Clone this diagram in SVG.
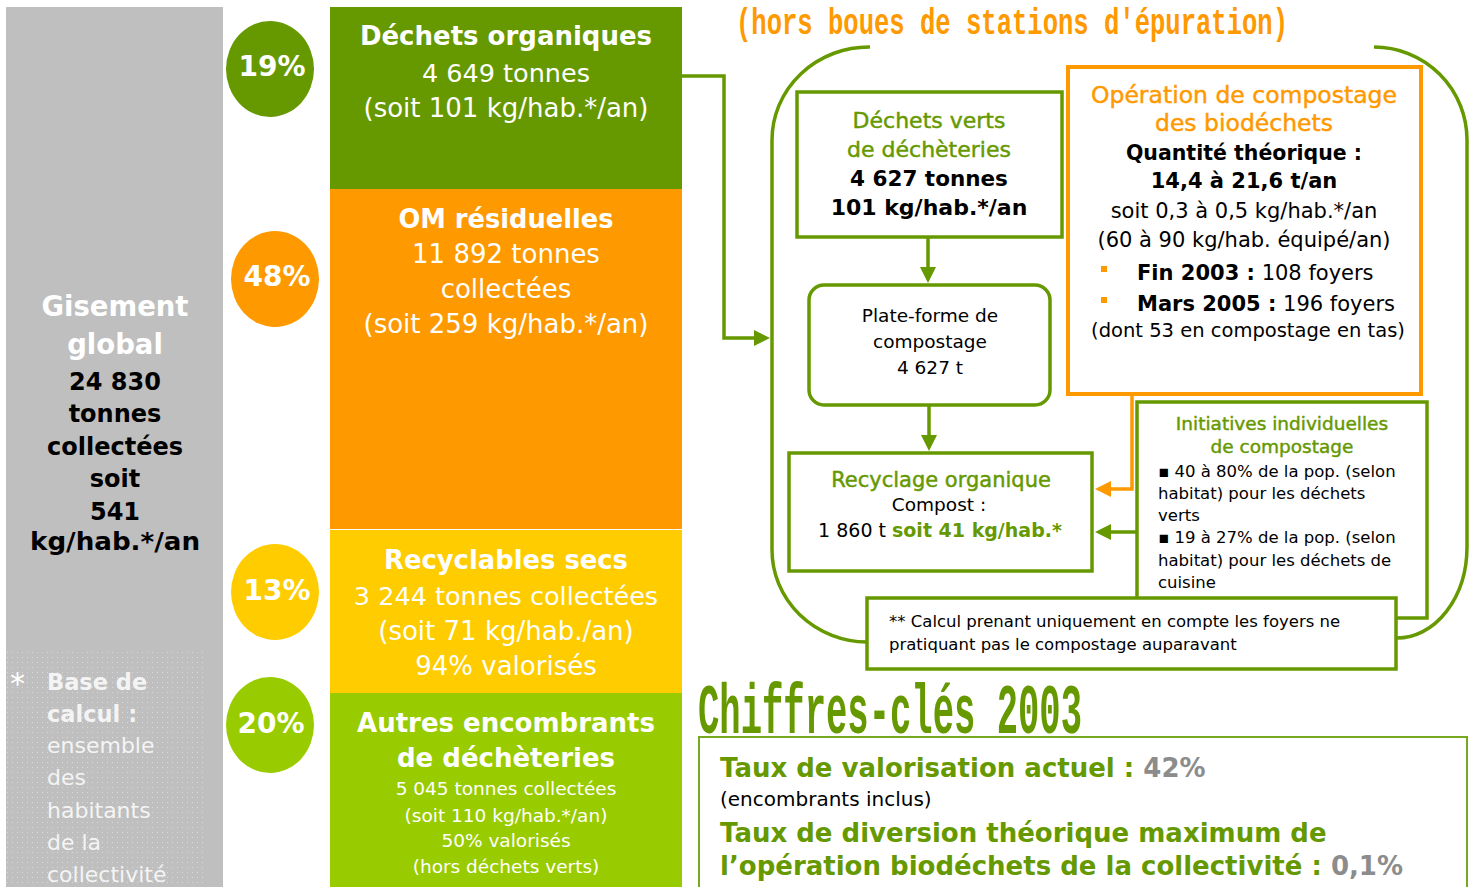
<svg xmlns="http://www.w3.org/2000/svg" width="1474" height="887" viewBox="0 0 1474 887">
<defs>
<style>
text{font-family:"DejaVu Sans",Verdana,sans-serif}
.b{font-weight:bold}
.w{fill:#ffffff}
.k{fill:#000000}
.c{text-anchor:middle}
.g{fill:#669900}
.gs{fill:#669900;stroke:#669900;stroke-width:.45}
.os{fill:#ff9900;stroke:#ff9900;stroke-width:.45}
.gray{fill:#8c8c8c}
.mono{font-family:"Liberation Mono","Courier New",monospace;font-weight:bold}
.box{fill:#ffffff;stroke:#669900;stroke-width:3.5}
.obox{fill:#ffffff;stroke:#ff9900;stroke-width:4}
.ln{fill:none;stroke:#669900;stroke-width:3.5}
.lno{fill:none;stroke:#ff9900;stroke-width:3.5}
</style>
<marker id="ag" markerUnits="userSpaceOnUse" markerWidth="16" markerHeight="16" refX="4" refY="8" orient="auto">
<path d="M0,0 L16,8 L0,16 Z" fill="#669900"/>
</marker>
<marker id="ao" markerUnits="userSpaceOnUse" markerWidth="16" markerHeight="16" refX="4" refY="8" orient="auto">
<path d="M0,0 L16,8 L0,16 Z" fill="#ff9900"/>
</marker>
<pattern id="dots" width="5" height="5" patternUnits="userSpaceOnUse">
<rect x="2" y="2" width="1" height="1" fill="#dadada"/>
</pattern>
</defs>

<g id="gisement">
<rect x="6" y="7" width="217" height="880" fill="#bfbfbf"/>
<rect x="7" y="650" width="198" height="237" fill="url(#dots)"/>
<text class="b w c" x="115" y="316" font-size="27.5">Gisement</text>
<text class="b w c" x="115" y="354" font-size="27.5">global</text>
<text class="b k c" x="115" y="390" font-size="24">24 830</text>
<text class="b k c" x="115" y="422" font-size="24">tonnes</text>
<text class="b k c" x="115" y="455" font-size="24">collectées</text>
<text class="b k c" x="115" y="487" font-size="24">soit</text>
<text class="b k c" x="115" y="520" font-size="24">541</text>
<text class="b k c" x="115" y="550" font-size="24" textLength="170" lengthAdjust="spacingAndGlyphs">kg/hab.*/an</text>
<text x="10" y="694" font-size="30" fill="#ffffff">*</text>
<text class="b" x="47" y="690" font-size="22.5" fill="#f4f4f4">Base de</text>
<text class="b" x="47" y="722" font-size="22.5" fill="#f4f4f4">calcul :</text>
<text x="47" y="753" font-size="22" fill="#f4f4f4">ensemble</text>
<text x="47" y="785" font-size="22" fill="#f4f4f4">des</text>
<text x="47" y="818" font-size="22" fill="#f4f4f4">habitants</text>
<text x="47" y="850" font-size="22" fill="#f4f4f4">de la</text>
<text x="47" y="882" font-size="22" fill="#f4f4f4">collectivité</text>
</g>

<g id="pct-19">
<ellipse cx="270" cy="69" rx="44" ry="48" fill="#669900"/>
<text class="b w c" x="272" y="76" font-size="28">19%</text>
</g>
<g id="pct-48">
<ellipse cx="275" cy="279" rx="44" ry="48" fill="#ff9900"/>
<text class="b w c" x="277" y="286" font-size="28">48%</text>
</g>
<g id="pct-13">
<ellipse cx="275" cy="592" rx="44" ry="48" fill="#ffcc00"/>
<text class="b w c" x="277" y="600" font-size="28">13%</text>
</g>
<g id="pct-20">
<ellipse cx="270" cy="725" rx="44" ry="48" fill="#99cc00"/>
<text class="b w c" x="271" y="733" font-size="28">20%</text>
</g>

<g id="dechets-organiques">
<rect x="330" y="7" width="352" height="182" fill="#669900"/>
<text class="b w c" x="506" y="45" font-size="26">Déchets organiques</text>
<text class="w c" x="506" y="82" font-size="25.5">4 649 tonnes</text>
<text class="w c" x="506" y="117" font-size="26">(soit 101 kg/hab.*/an)</text>
</g>
<g id="om-residuelles">
<rect x="330" y="189" width="352" height="340" fill="#ff9900"/>
<text class="b w c" x="506" y="228" font-size="26" textLength="215" lengthAdjust="spacingAndGlyphs">OM résiduelles</text>
<text class="w c" x="506" y="263" font-size="26">11 892 tonnes</text>
<text class="w c" x="506" y="298" font-size="26">collectées</text>
<text class="w c" x="506" y="333" font-size="26">(soit 259 kg/hab.*/an)</text>
</g>
<g id="recyclables-secs">
<rect x="330" y="530" width="352" height="163" fill="#ffcc00"/>
<text class="b w c" x="506" y="569" font-size="26" textLength="244" lengthAdjust="spacingAndGlyphs">Recyclables secs</text>
<text class="w c" x="506" y="605" font-size="25.5">3 244 tonnes collectées</text>
<text class="w c" x="506" y="640" font-size="26">(soit 71 kg/hab./an)</text>
<text class="w c" x="506" y="675" font-size="26">94% valorisés</text>
</g>
<g id="autres-encombrants">
<rect x="330" y="693" width="352" height="194" fill="#99cc00"/>
<text class="b w c" x="506" y="732" font-size="26">Autres encombrants</text>
<text class="b w c" x="506" y="767" font-size="26">de déchèteries</text>
<text class="w c" x="506" y="795" font-size="18.5">5 045 tonnes collectées</text>
<text class="w c" x="506" y="822" font-size="18.5">(soit 110 kg/hab.*/an)</text>
<text class="w c" x="506" y="847" font-size="18.5">50% valorisés</text>
<text class="w c" x="506" y="873" font-size="18.5">(hors déchets verts)</text>
</g>

<g id="titre">
<text class="mono" x="736" y="34" font-size="37" fill="#ff9900" textLength="552" lengthAdjust="spacingAndGlyphs">(hors boues de stations d'épuration)</text>
</g>

<g id="connectors">
<path class="ln" d="M870,47 A97,93 0 0 0 772,140 V550 A96,92 0 0 0 867,642"/>
<path class="ln" d="M1374,47 A93,93 0 0 1 1467,140 V547 A70,91 0 0 1 1397,638"/>
<path class="ln" stroke-width="3" d="M682,76 H724 V338 H758" marker-end="url(#ag)"/>
<path class="ln" d="M928,238 V271" marker-end="url(#ag)"/>
<path class="ln" d="M929,406 V439" marker-end="url(#ag)"/>
<path class="lno" d="M1132,395 V489 H1107" marker-end="url(#ao)"/>
<path class="ln" d="M1137,532 H1107" marker-end="url(#ag)"/>
</g>

<g id="dechets-verts">
<rect class="box" x="797" y="92" width="265" height="145"/>
<text class="gs c" x="929" y="128" font-size="22">Déchets verts</text>
<text class="gs c" x="929" y="157" font-size="22">de déchèteries</text>
<text class="b k c" x="929" y="186" font-size="21.5">4 627 tonnes</text>
<text class="b k c" x="929" y="215" font-size="22">101 kg/hab.*/an</text>
</g>

<g id="plate-forme">
<rect class="box" x="809" y="285" width="241" height="120" rx="15"/>
<text class="k c" x="930" y="322" font-size="18.5">Plate-forme de</text>
<text class="k c" x="930" y="348" font-size="18.5">compostage</text>
<text class="k c" x="930" y="374" font-size="18.5">4 627 t</text>
</g>

<g id="recyclage">
<rect class="box" x="789" y="453" width="303" height="118"/>
<text class="gs c" x="941" y="487" font-size="21">Recyclage organique</text>
<text class="k c" x="939" y="511" font-size="18.5">Compost :</text>
<text class="c" x="940" y="537" font-size="19"><tspan class="k">1 860 t </tspan><tspan class="b g">soit 41 kg/hab.*</tspan></text>
</g>

<g id="operation">
<rect class="obox" x="1068" y="67" width="353" height="327"/>
<text class="os c" x="1244" y="103" font-size="23.5">Opération de compostage</text>
<text class="os c" x="1244" y="131" font-size="23.5">des biodéchets</text>
<text class="b k c" x="1244" y="160" font-size="20.5">Quantité théorique :</text>
<text class="b k c" x="1244" y="188" font-size="21">14,4 à 21,6 t/an</text>
<text class="k c" x="1244" y="218" font-size="21">soit 0,3 à 0,5 kg/hab.*/an</text>
<text class="k c" x="1244" y="247" font-size="21">(60 à 90 kg/hab. équipé/an)</text>
<rect x="1101" y="266" width="6" height="6" fill="#ff9900"/>
<text class="k" x="1137" y="280" font-size="21"><tspan class="b">Fin 2003 :</tspan> 108 foyers</text>
<rect x="1101" y="297" width="6" height="6" fill="#ff9900"/>
<text class="k" x="1137" y="311" font-size="21"><tspan class="b">Mars 2005 :</tspan> 196 foyers</text>
<text class="k c" x="1248" y="337" font-size="19.5">(dont 53 en compostage en tas)</text>
</g>

<g id="initiatives">
<rect class="box" x="1137" y="402" width="290" height="216"/>
<text class="gs c" x="1282" y="430" font-size="18.5">Initiatives individuelles</text>
<text class="gs c" x="1282" y="453" font-size="18.5">de compostage</text>
<text class="k" x="1158" y="477" font-size="16.5">▪ 40 à 80% de la pop. (selon</text>
<text class="k" x="1158" y="499" font-size="16.5">habitat) pour les déchets</text>
<text class="k" x="1158" y="521" font-size="16.5">verts</text>
<text class="k" x="1158" y="543" font-size="16.5">▪ 19 à 27% de la pop. (selon</text>
<text class="k" x="1158" y="566" font-size="16.5">habitat) pour les déchets de</text>
<text class="k" x="1158" y="588" font-size="16.5">cuisine</text>
</g>

<g id="note">
<rect class="box" x="867" y="598" width="529" height="71"/>
<text class="k" x="889" y="627" font-size="16.5">** Calcul prenant uniquement en compte les foyers ne</text>
<text class="k" x="889" y="650" font-size="16.5">pratiquant pas le compostage auparavant</text>
</g>

<g id="chiffres-cles">
<text class="mono" x="698" y="733" font-size="70" fill="#669900" textLength="384" lengthAdjust="spacingAndGlyphs">Chiffres-clés 2003</text>
<rect x="699" y="737" width="768" height="170" fill="none" stroke="#77a822" stroke-width="2"/>
<text class="b" x="720" y="777" font-size="26"><tspan class="g">Taux de valorisation actuel :</tspan><tspan class="gray"> 42%</tspan></text>
<text class="k" x="720" y="806" font-size="20">(encombrants inclus)</text>
<text class="b g" x="720" y="842" font-size="26">Taux de diversion théorique maximum de</text>
<text class="b" x="720" y="875" font-size="26"><tspan class="g">l’opération biodéchets de la collectivité :</tspan><tspan class="gray"> 0,1%</tspan></text>
</g>
</svg>
